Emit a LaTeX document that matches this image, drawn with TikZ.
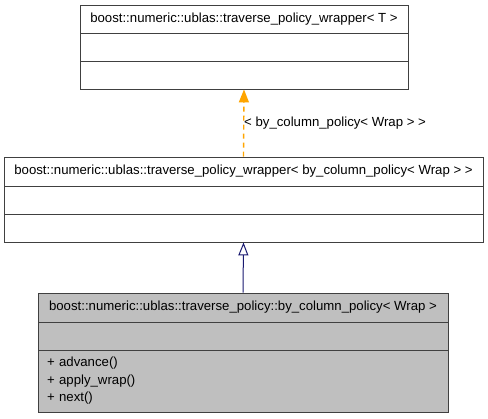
\documentclass[tikz,border=0pt]{standalone}
\usepackage{fontspec}
\setmainfont{Liberation Sans}
\usetikzlibrary{arrows.meta}
\definecolor{edgeorange}{HTML}{FFA500}
\definecolor{edgenavy}{HTML}{191970}
\definecolor{classgray}{HTML}{BFBFBF}
\begin{document}
\begin{tikzpicture}[x=1pt,y=-1pt,font=\fontsize{13.2}{15}\selectfont]
\tikzstyle{classbox} = [draw=black!75,line width=0.9pt,inner sep=0pt,minimum height=28pt]
\tikzstyle{usesedge} = [draw=edgeorange,line width=1.4pt,dash pattern=on 5pt off 4pt,-{Triangle[length=13pt,width=10pt,fill=edgeorange]}]
\tikzstyle{inheritedge} = [draw=edgenavy,line width=1pt,-{Triangle[open,length=13pt,width=10pt,fill=white]}]
\useasboundingbox (0,0) rectangle (488,419);
%classe de base (template)
\node[classbox,minimum width=328pt] (wrapT) at (244,19) {boost::numeric::ublas::traverse\_policy\_wrapper< T >};
\node[classbox,minimum width=328pt] (wrapTattr) at (244,47) {};
\node[classbox,minimum width=328pt] (wrapTmeth) at (244,75) {};
%classe intermédiaire
\node[classbox,minimum width=479pt,minimum height=29pt] (wrapBy) at (243.5,171.5) {boost::numeric::ublas::traverse\_policy\_wrapper< by\_column\_policy< Wrap > >};
\node[classbox,minimum width=479pt] (wrapByattr) at (243.5,200) {};
\node[classbox,minimum width=479pt] (wrapBymeth) at (243.5,228) {};
%classe dérivée
\node[classbox,fill=classgray,minimum width=410pt,minimum height=29pt] (byCol) at (243,307.5) {boost::numeric::ublas::traverse\_policy::by\_column\_policy< Wrap >};
\node[classbox,fill=classgray,minimum width=410pt] (byColattr) at (243,336) {};
\node[classbox,fill=classgray,minimum width=410pt,minimum height=62pt,text width=392pt,align=left,font=\fontsize{13.2}{17.5}\selectfont] (byColmeth) at (243,381) {+ advance()\\+ apply\_wrap()\\+ next()};
%tracer les flèches
\draw[usesedge] (wrapBy.north) -- (wrapTmeth.south);
\node[anchor=west,inner sep=0pt] (wrapArg) at (244,123) {< by\_column\_policy< Wrap > >};
\draw[inheritedge] (byCol.north) -- (wrapBymeth.south);
\end{tikzpicture}
\end{document}
